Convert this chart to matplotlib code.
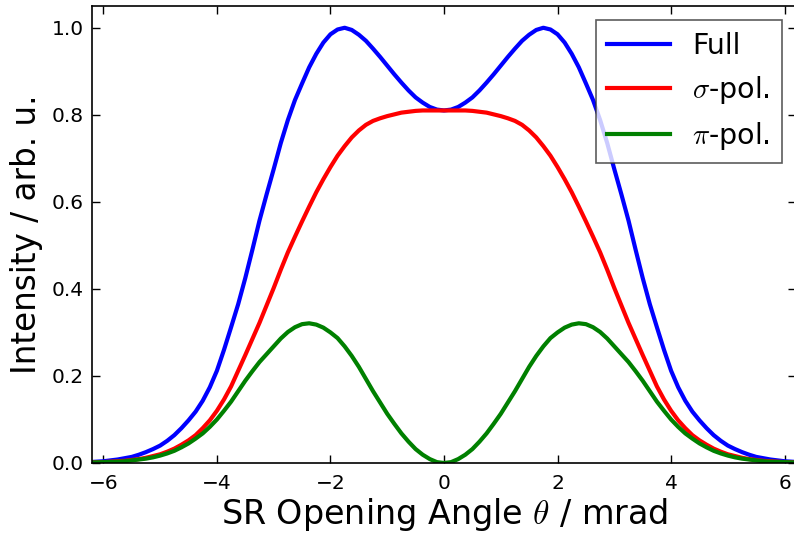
import numpy as np
import matplotlib
matplotlib.use("Agg")
import matplotlib.pyplot as plt

plt.rcParams['mathtext.fontset'] = 'cm'

# opening angle grid (mrad), 0.125 mrad steps
theta = np.linspace(-6.25, 6.25, 101)

# total intensity
full = [0.002, 0.003, 0.004, 0.006, 0.008, 0.011, 0.014, 0.019, 0.025, 0.032,
        0.040, 0.051, 0.064, 0.080, 0.098, 0.118, 0.143, 0.174, 0.212, 0.260,
        0.312, 0.365, 0.425, 0.490, 0.557, 0.617, 0.675, 0.735, 0.788, 0.834,
        0.872, 0.909, 0.940, 0.966, 0.985, 0.996, 1.000, 0.995, 0.984, 0.970,
        0.952, 0.933, 0.913, 0.893, 0.874, 0.856, 0.840, 0.828, 0.818, 0.812,
        0.810,
        0.812, 0.818, 0.828, 0.840, 0.856, 0.874, 0.893, 0.913, 0.933, 0.952,
        0.970, 0.984, 0.995, 1.000, 0.996, 0.985, 0.966, 0.940, 0.909, 0.872,
        0.834, 0.788, 0.735, 0.675, 0.617, 0.557, 0.490, 0.425, 0.365, 0.312,
        0.260, 0.212, 0.174, 0.143, 0.118, 0.098, 0.080, 0.064, 0.051, 0.040,
        0.032, 0.025, 0.019, 0.014, 0.011, 0.008, 0.006, 0.004, 0.003, 0.002]

# sigma component
sigma = [0.001, 0.0015, 0.002, 0.003, 0.004, 0.005, 0.007, 0.009, 0.012, 0.016,
         0.020, 0.026, 0.033, 0.042, 0.052, 0.064, 0.080, 0.098, 0.120, 0.146,
         0.176, 0.212, 0.248, 0.285, 0.322, 0.362, 0.402, 0.444, 0.484, 0.520,
         0.555, 0.589, 0.622, 0.652, 0.680, 0.706, 0.728, 0.748, 0.764, 0.777,
         0.786, 0.792, 0.797, 0.801, 0.805, 0.807, 0.809, 0.810, 0.810, 0.810,
         0.810,
         0.810, 0.810, 0.810, 0.809, 0.807, 0.805, 0.801, 0.797, 0.792, 0.786,
         0.777, 0.764, 0.748, 0.728, 0.706, 0.680, 0.652, 0.622, 0.589, 0.555,
         0.520, 0.484, 0.444, 0.402, 0.362, 0.322, 0.285, 0.248, 0.212, 0.176,
         0.146, 0.120, 0.098, 0.080, 0.064, 0.052, 0.042, 0.033, 0.026, 0.020,
         0.016, 0.012, 0.009, 0.007, 0.005, 0.004, 0.003, 0.002, 0.0015, 0.001]

# pi component
pi = [0.001, 0.0015, 0.002, 0.0025, 0.003, 0.004, 0.006, 0.008, 0.010, 0.013,
      0.017, 0.022, 0.028, 0.036, 0.045, 0.056, 0.068, 0.083, 0.100, 0.120,
      0.141, 0.165, 0.189, 0.211, 0.232, 0.250, 0.268, 0.286, 0.301, 0.312,
      0.319, 0.321, 0.318, 0.311, 0.300, 0.287, 0.268, 0.246, 0.221, 0.193,
      0.165, 0.139, 0.113, 0.090, 0.068, 0.049, 0.032, 0.019, 0.009, 0.002,
      0.000,
      0.002, 0.009, 0.019, 0.032, 0.049, 0.068, 0.090, 0.113, 0.139, 0.165,
      0.193, 0.221, 0.246, 0.268, 0.287, 0.300, 0.311, 0.318, 0.321, 0.319,
      0.312, 0.301, 0.286, 0.268, 0.250, 0.232, 0.211, 0.189, 0.165, 0.141,
      0.120, 0.100, 0.083, 0.068, 0.056, 0.045, 0.036, 0.028, 0.022, 0.017,
      0.013, 0.010, 0.008, 0.006, 0.004, 0.003, 0.0025, 0.002, 0.0015, 0.001]

labels = ['Full', r'$\sigma$-pol.', r'$\pi$-pol.']
colors = ['b', 'r', 'g']

fig = plt.figure(figsize=(7.94, 5.34), dpi=100)
# right spine sits just past the figure edge
ax = fig.add_axes([92 / 794, 71 / 534, 704 / 794, 457 / 534])

for y, lab, c in zip([full, sigma, pi], labels, colors):
    ax.plot(theta, y, color=c, lw=3, label=lab)

ax.set_xlim(-6.2, 6.2)
ax.set_ylim(0, 1.05)
ax.set_xticks([-6, -4, -2, 0, 2, 4, 6])
ax.set_xticklabels(['\u22126', '\u22124', '\u22122', '0', '2', '4', '6'])
ax.set_yticks([0.0, 0.2, 0.4, 0.6, 0.8, 1.0])
ax.set_yticklabels(['0.0', '0.2', '0.4', '0.6', '0.8', '1.0'])

ax.tick_params(direction='in', top=True, right=True, length=6, width=1,
               labelsize=14.5)
ax.tick_params(axis='y', pad=6)
ax.tick_params(axis='x', pad=8)
for sp in ax.spines.values():
    sp.set_linewidth(1.2)

ax.set_xlabel(r'SR Opening Angle $\theta$ / mrad', fontsize=24, labelpad=2)
ax.set_ylabel('Intensity / arb. u.', fontsize=23.5, labelpad=6)

leg = ax.legend(loc='upper right', fontsize=20.5, fancybox=False,
                edgecolor='0.2', handlelength=2.2, borderaxespad=0.5)
leg.get_frame().set_linewidth(1.2)

fig.savefig('out.png', dpi=100)
